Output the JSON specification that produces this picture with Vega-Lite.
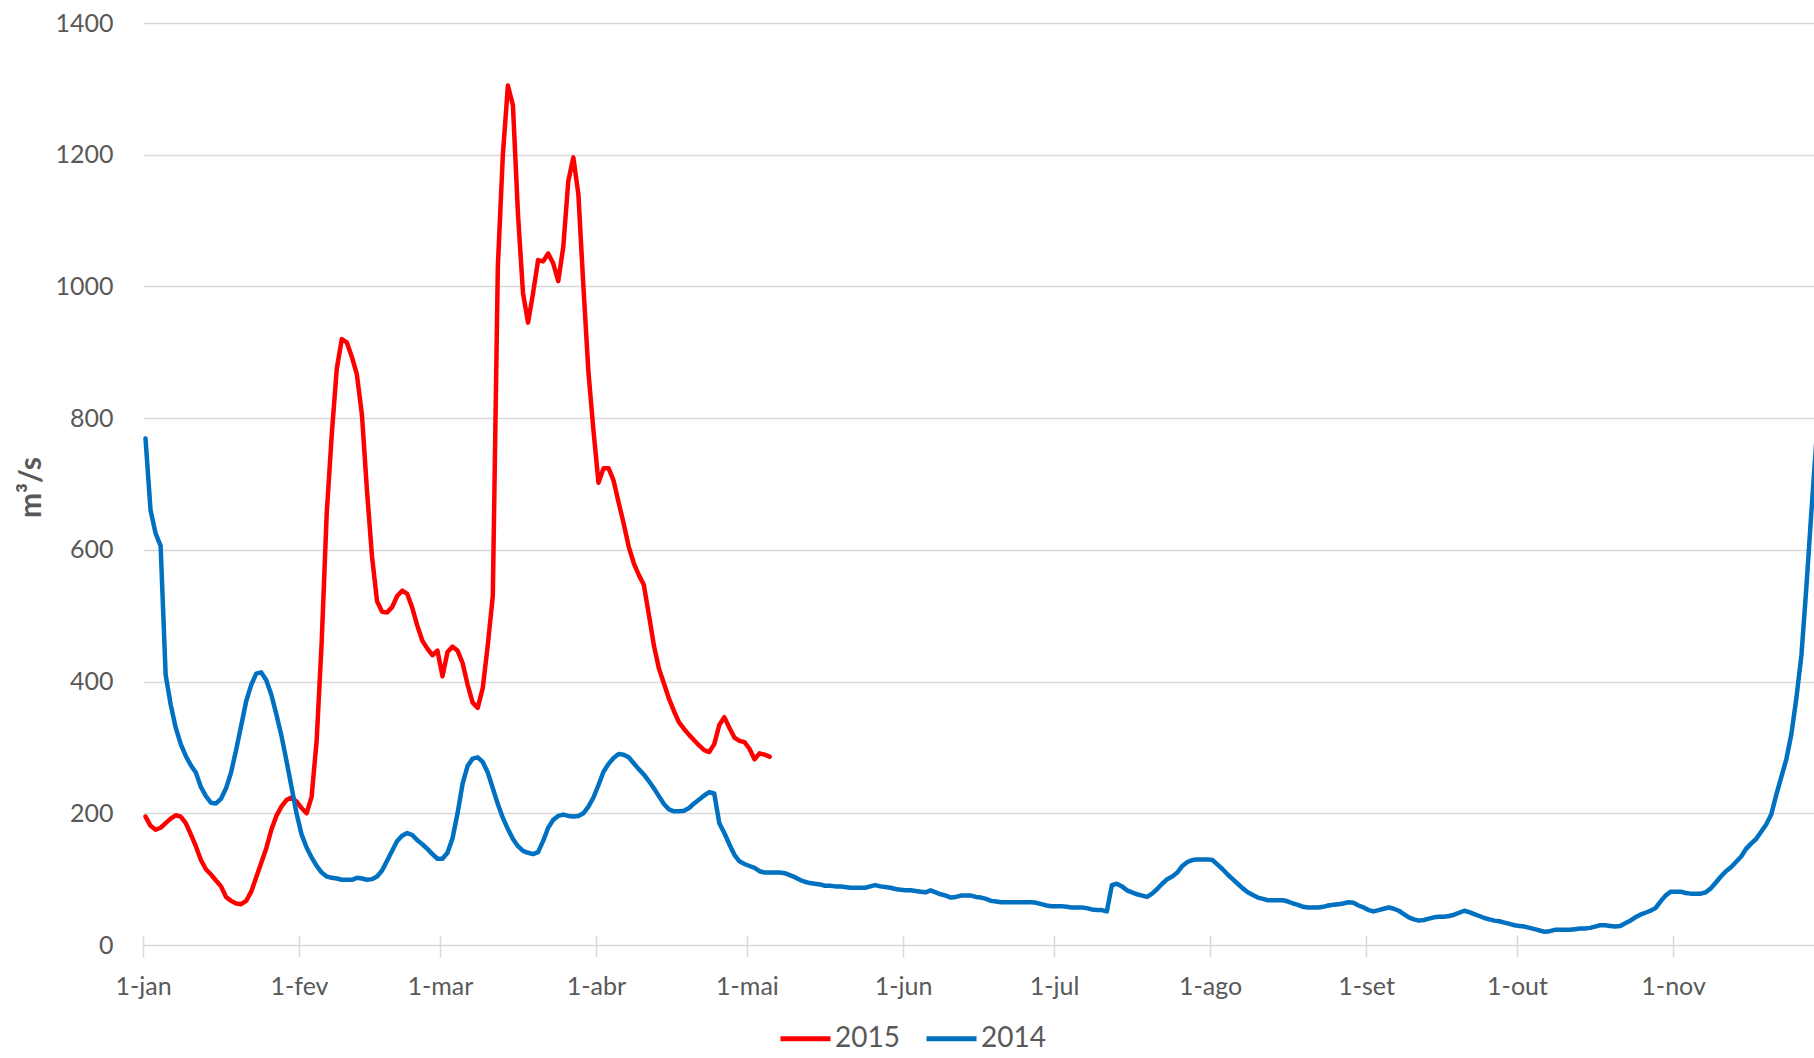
{
"$schema": "https://vega.github.io/schema/vega-lite/v6.json",
"width": 1671, "height": 922,
"autosize": {"type": "none"},
"padding": {"left": 143, "top": 23, "right": 0, "bottom": 113},
"background": "white",
"config": {"view": {"stroke": null}, "font": "Lato"},
"data": {"values": [
{"ano":"2015","data":"2014-01-01","vazao":195},{"ano":"2015","data":"2014-01-02","vazao":181},{"ano":"2015","data":"2014-01-03","vazao":175},{"ano":"2015","data":"2014-01-04","vazao":178},{"ano":"2015","data":"2014-01-05","vazao":185},{"ano":"2015","data":"2014-01-06","vazao":192},{"ano":"2015","data":"2014-01-07","vazao":197},{"ano":"2015","data":"2014-01-08","vazao":195},{"ano":"2015","data":"2014-01-09","vazao":185},{"ano":"2015","data":"2014-01-10","vazao":168},{"ano":"2015","data":"2014-01-11","vazao":150},{"ano":"2015","data":"2014-01-12","vazao":129},{"ano":"2015","data":"2014-01-13","vazao":115},{"ano":"2015","data":"2014-01-14","vazao":107},{"ano":"2015","data":"2014-01-15","vazao":98},{"ano":"2015","data":"2014-01-16","vazao":89},{"ano":"2015","data":"2014-01-17","vazao":73},{"ano":"2015","data":"2014-01-18","vazao":67},{"ano":"2015","data":"2014-01-19","vazao":63},{"ano":"2015","data":"2014-01-20","vazao":62},{"ano":"2015","data":"2014-01-21","vazao":67},{"ano":"2015","data":"2014-01-22","vazao":81},{"ano":"2015","data":"2014-01-23","vazao":103},{"ano":"2015","data":"2014-01-24","vazao":125},{"ano":"2015","data":"2014-01-25","vazao":147},{"ano":"2015","data":"2014-01-26","vazao":175},{"ano":"2015","data":"2014-01-27","vazao":196},{"ano":"2015","data":"2014-01-28","vazao":210},{"ano":"2015","data":"2014-01-29","vazao":220},{"ano":"2015","data":"2014-01-30","vazao":224},{"ano":"2015","data":"2014-01-31","vazao":218},
{"ano":"2015","data":"2014-02-01","vazao":208},{"ano":"2015","data":"2014-02-02","vazao":200},{"ano":"2015","data":"2014-02-03","vazao":225},{"ano":"2015","data":"2014-02-04","vazao":310},{"ano":"2015","data":"2014-02-05","vazao":460},{"ano":"2015","data":"2014-02-06","vazao":655},{"ano":"2015","data":"2014-02-07","vazao":775},{"ano":"2015","data":"2014-02-08","vazao":875},{"ano":"2015","data":"2014-02-09","vazao":920},{"ano":"2015","data":"2014-02-10","vazao":915},{"ano":"2015","data":"2014-02-11","vazao":893},{"ano":"2015","data":"2014-02-12","vazao":866},{"ano":"2015","data":"2014-02-13","vazao":805},{"ano":"2015","data":"2014-02-14","vazao":690},{"ano":"2015","data":"2014-02-15","vazao":590},{"ano":"2015","data":"2014-02-16","vazao":522},{"ano":"2015","data":"2014-02-17","vazao":506},{"ano":"2015","data":"2014-02-18","vazao":505},{"ano":"2015","data":"2014-02-19","vazao":513},{"ano":"2015","data":"2014-02-20","vazao":530},{"ano":"2015","data":"2014-02-21","vazao":538},{"ano":"2015","data":"2014-02-22","vazao":533},{"ano":"2015","data":"2014-02-23","vazao":512},{"ano":"2015","data":"2014-02-24","vazao":485},{"ano":"2015","data":"2014-02-25","vazao":462},{"ano":"2015","data":"2014-02-26","vazao":450},{"ano":"2015","data":"2014-02-27","vazao":440},{"ano":"2015","data":"2014-02-28","vazao":447},
{"ano":"2015","data":"2014-03-01","vazao":408},{"ano":"2015","data":"2014-03-02","vazao":445},{"ano":"2015","data":"2014-03-03","vazao":453},{"ano":"2015","data":"2014-03-04","vazao":447},{"ano":"2015","data":"2014-03-05","vazao":428},{"ano":"2015","data":"2014-03-06","vazao":395},{"ano":"2015","data":"2014-03-07","vazao":368},{"ano":"2015","data":"2014-03-08","vazao":360},{"ano":"2015","data":"2014-03-09","vazao":390},{"ano":"2015","data":"2014-03-10","vazao":455},{"ano":"2015","data":"2014-03-11","vazao":530},{"ano":"2015","data":"2014-03-12","vazao":1030},{"ano":"2015","data":"2014-03-13","vazao":1200},{"ano":"2015","data":"2014-03-14","vazao":1305},{"ano":"2015","data":"2014-03-15","vazao":1275},{"ano":"2015","data":"2014-03-16","vazao":1110},{"ano":"2015","data":"2014-03-17","vazao":990},{"ano":"2015","data":"2014-03-18","vazao":945},{"ano":"2015","data":"2014-03-19","vazao":990},{"ano":"2015","data":"2014-03-20","vazao":1040},{"ano":"2015","data":"2014-03-21","vazao":1038},{"ano":"2015","data":"2014-03-22","vazao":1050},{"ano":"2015","data":"2014-03-23","vazao":1035},{"ano":"2015","data":"2014-03-24","vazao":1008},{"ano":"2015","data":"2014-03-25","vazao":1060},{"ano":"2015","data":"2014-03-26","vazao":1160},{"ano":"2015","data":"2014-03-27","vazao":1196},{"ano":"2015","data":"2014-03-28","vazao":1140},{"ano":"2015","data":"2014-03-29","vazao":1000},{"ano":"2015","data":"2014-03-30","vazao":870},{"ano":"2015","data":"2014-03-31","vazao":781},
{"ano":"2015","data":"2014-04-01","vazao":702},{"ano":"2015","data":"2014-04-02","vazao":724},{"ano":"2015","data":"2014-04-03","vazao":724},{"ano":"2015","data":"2014-04-04","vazao":705},{"ano":"2015","data":"2014-04-05","vazao":672},{"ano":"2015","data":"2014-04-06","vazao":640},{"ano":"2015","data":"2014-04-07","vazao":605},{"ano":"2015","data":"2014-04-08","vazao":580},{"ano":"2015","data":"2014-04-09","vazao":562},{"ano":"2015","data":"2014-04-10","vazao":547},{"ano":"2015","data":"2014-04-11","vazao":502},{"ano":"2015","data":"2014-04-12","vazao":455},{"ano":"2015","data":"2014-04-13","vazao":420},{"ano":"2015","data":"2014-04-14","vazao":397},{"ano":"2015","data":"2014-04-15","vazao":374},{"ano":"2015","data":"2014-04-16","vazao":355},{"ano":"2015","data":"2014-04-17","vazao":338},{"ano":"2015","data":"2014-04-18","vazao":328},{"ano":"2015","data":"2014-04-19","vazao":319},{"ano":"2015","data":"2014-04-20","vazao":311},{"ano":"2015","data":"2014-04-21","vazao":303},{"ano":"2015","data":"2014-04-22","vazao":296},{"ano":"2015","data":"2014-04-23","vazao":293},{"ano":"2015","data":"2014-04-24","vazao":305},{"ano":"2015","data":"2014-04-25","vazao":334},{"ano":"2015","data":"2014-04-26","vazao":346},{"ano":"2015","data":"2014-04-27","vazao":330},{"ano":"2015","data":"2014-04-28","vazao":315},{"ano":"2015","data":"2014-04-29","vazao":310},{"ano":"2015","data":"2014-04-30","vazao":308},
{"ano":"2015","data":"2014-05-01","vazao":298},{"ano":"2015","data":"2014-05-02","vazao":282},{"ano":"2015","data":"2014-05-03","vazao":291},{"ano":"2015","data":"2014-05-04","vazao":289},{"ano":"2015","data":"2014-05-05","vazao":286},
{"ano":"2014","data":"2014-01-01","vazao":769},{"ano":"2014","data":"2014-01-02","vazao":660},{"ano":"2014","data":"2014-01-03","vazao":625},{"ano":"2014","data":"2014-01-04","vazao":606},{"ano":"2014","data":"2014-01-05","vazao":410},{"ano":"2014","data":"2014-01-06","vazao":365},{"ano":"2014","data":"2014-01-07","vazao":330},{"ano":"2014","data":"2014-01-08","vazao":305},{"ano":"2014","data":"2014-01-09","vazao":287},{"ano":"2014","data":"2014-01-10","vazao":273},{"ano":"2014","data":"2014-01-11","vazao":262},{"ano":"2014","data":"2014-01-12","vazao":240},{"ano":"2014","data":"2014-01-13","vazao":226},{"ano":"2014","data":"2014-01-14","vazao":216},{"ano":"2014","data":"2014-01-15","vazao":215},{"ano":"2014","data":"2014-01-16","vazao":222},{"ano":"2014","data":"2014-01-17","vazao":238},{"ano":"2014","data":"2014-01-18","vazao":262},{"ano":"2014","data":"2014-01-19","vazao":296},{"ano":"2014","data":"2014-01-20","vazao":333},{"ano":"2014","data":"2014-01-21","vazao":370},{"ano":"2014","data":"2014-01-22","vazao":395},{"ano":"2014","data":"2014-01-23","vazao":412},{"ano":"2014","data":"2014-01-24","vazao":414},{"ano":"2014","data":"2014-01-25","vazao":402},{"ano":"2014","data":"2014-01-26","vazao":380},{"ano":"2014","data":"2014-01-27","vazao":350},{"ano":"2014","data":"2014-01-28","vazao":318},{"ano":"2014","data":"2014-01-29","vazao":280},{"ano":"2014","data":"2014-01-30","vazao":240},{"ano":"2014","data":"2014-01-31","vazao":200},
{"ano":"2014","data":"2014-02-01","vazao":168},{"ano":"2014","data":"2014-02-02","vazao":148},{"ano":"2014","data":"2014-02-03","vazao":133},{"ano":"2014","data":"2014-02-04","vazao":120},{"ano":"2014","data":"2014-02-05","vazao":110},{"ano":"2014","data":"2014-02-06","vazao":104},{"ano":"2014","data":"2014-02-07","vazao":102},{"ano":"2014","data":"2014-02-08","vazao":101},{"ano":"2014","data":"2014-02-09","vazao":99},{"ano":"2014","data":"2014-02-10","vazao":99},{"ano":"2014","data":"2014-02-11","vazao":99},{"ano":"2014","data":"2014-02-12","vazao":102},{"ano":"2014","data":"2014-02-13","vazao":101},{"ano":"2014","data":"2014-02-14","vazao":99},{"ano":"2014","data":"2014-02-15","vazao":100},{"ano":"2014","data":"2014-02-16","vazao":104},{"ano":"2014","data":"2014-02-17","vazao":113},{"ano":"2014","data":"2014-02-18","vazao":128},{"ano":"2014","data":"2014-02-19","vazao":143},{"ano":"2014","data":"2014-02-20","vazao":158},{"ano":"2014","data":"2014-02-21","vazao":166},{"ano":"2014","data":"2014-02-22","vazao":170},{"ano":"2014","data":"2014-02-23","vazao":167},{"ano":"2014","data":"2014-02-24","vazao":159},{"ano":"2014","data":"2014-02-25","vazao":153},{"ano":"2014","data":"2014-02-26","vazao":146},{"ano":"2014","data":"2014-02-27","vazao":138},{"ano":"2014","data":"2014-02-28","vazao":131},
{"ano":"2014","data":"2014-03-01","vazao":131},{"ano":"2014","data":"2014-03-02","vazao":140},{"ano":"2014","data":"2014-03-03","vazao":162},{"ano":"2014","data":"2014-03-04","vazao":200},{"ano":"2014","data":"2014-03-05","vazao":245},{"ano":"2014","data":"2014-03-06","vazao":272},{"ano":"2014","data":"2014-03-07","vazao":283},{"ano":"2014","data":"2014-03-08","vazao":285},{"ano":"2014","data":"2014-03-09","vazao":278},{"ano":"2014","data":"2014-03-10","vazao":262},{"ano":"2014","data":"2014-03-11","vazao":238},{"ano":"2014","data":"2014-03-12","vazao":214},{"ano":"2014","data":"2014-03-13","vazao":193},{"ano":"2014","data":"2014-03-14","vazao":176},{"ano":"2014","data":"2014-03-15","vazao":161},{"ano":"2014","data":"2014-03-16","vazao":150},{"ano":"2014","data":"2014-03-17","vazao":143},{"ano":"2014","data":"2014-03-18","vazao":140},{"ano":"2014","data":"2014-03-19","vazao":138},{"ano":"2014","data":"2014-03-20","vazao":141},{"ano":"2014","data":"2014-03-21","vazao":158},{"ano":"2014","data":"2014-03-22","vazao":178},{"ano":"2014","data":"2014-03-23","vazao":190},{"ano":"2014","data":"2014-03-24","vazao":196},{"ano":"2014","data":"2014-03-25","vazao":198},{"ano":"2014","data":"2014-03-26","vazao":196},{"ano":"2014","data":"2014-03-27","vazao":195},{"ano":"2014","data":"2014-03-28","vazao":196},{"ano":"2014","data":"2014-03-29","vazao":200},{"ano":"2014","data":"2014-03-30","vazao":210},{"ano":"2014","data":"2014-03-31","vazao":224},
{"ano":"2014","data":"2014-04-01","vazao":243},{"ano":"2014","data":"2014-04-02","vazao":263},{"ano":"2014","data":"2014-04-03","vazao":275},{"ano":"2014","data":"2014-04-04","vazao":284},{"ano":"2014","data":"2014-04-05","vazao":290},{"ano":"2014","data":"2014-04-06","vazao":289},{"ano":"2014","data":"2014-04-07","vazao":285},{"ano":"2014","data":"2014-04-08","vazao":276},{"ano":"2014","data":"2014-04-09","vazao":267},{"ano":"2014","data":"2014-04-10","vazao":259},{"ano":"2014","data":"2014-04-11","vazao":249},{"ano":"2014","data":"2014-04-12","vazao":238},{"ano":"2014","data":"2014-04-13","vazao":226},{"ano":"2014","data":"2014-04-14","vazao":214},{"ano":"2014","data":"2014-04-15","vazao":206},{"ano":"2014","data":"2014-04-16","vazao":203},{"ano":"2014","data":"2014-04-17","vazao":203},{"ano":"2014","data":"2014-04-18","vazao":204},{"ano":"2014","data":"2014-04-19","vazao":208},{"ano":"2014","data":"2014-04-20","vazao":215},{"ano":"2014","data":"2014-04-21","vazao":221},{"ano":"2014","data":"2014-04-22","vazao":227},{"ano":"2014","data":"2014-04-23","vazao":232},{"ano":"2014","data":"2014-04-24","vazao":230},{"ano":"2014","data":"2014-04-25","vazao":185},{"ano":"2014","data":"2014-04-26","vazao":170},{"ano":"2014","data":"2014-04-27","vazao":153},{"ano":"2014","data":"2014-04-28","vazao":137},{"ano":"2014","data":"2014-04-29","vazao":127},{"ano":"2014","data":"2014-04-30","vazao":123},
{"ano":"2014","data":"2014-05-01","vazao":120},{"ano":"2014","data":"2014-05-02","vazao":117},{"ano":"2014","data":"2014-05-03","vazao":112},{"ano":"2014","data":"2014-05-04","vazao":110},{"ano":"2014","data":"2014-05-05","vazao":110},{"ano":"2014","data":"2014-05-06","vazao":110},{"ano":"2014","data":"2014-05-07","vazao":110},{"ano":"2014","data":"2014-05-08","vazao":109},{"ano":"2014","data":"2014-05-09","vazao":106},{"ano":"2014","data":"2014-05-10","vazao":103},{"ano":"2014","data":"2014-05-11","vazao":99},{"ano":"2014","data":"2014-05-12","vazao":96},{"ano":"2014","data":"2014-05-13","vazao":94},{"ano":"2014","data":"2014-05-14","vazao":93},{"ano":"2014","data":"2014-05-15","vazao":92},{"ano":"2014","data":"2014-05-16","vazao":90},{"ano":"2014","data":"2014-05-17","vazao":90},{"ano":"2014","data":"2014-05-18","vazao":89},{"ano":"2014","data":"2014-05-19","vazao":89},{"ano":"2014","data":"2014-05-20","vazao":88},{"ano":"2014","data":"2014-05-21","vazao":87},{"ano":"2014","data":"2014-05-22","vazao":87},{"ano":"2014","data":"2014-05-23","vazao":87},{"ano":"2014","data":"2014-05-24","vazao":87},{"ano":"2014","data":"2014-05-25","vazao":89},{"ano":"2014","data":"2014-05-26","vazao":91},{"ano":"2014","data":"2014-05-27","vazao":89},{"ano":"2014","data":"2014-05-28","vazao":88},{"ano":"2014","data":"2014-05-29","vazao":87},{"ano":"2014","data":"2014-05-30","vazao":85},{"ano":"2014","data":"2014-05-31","vazao":84},
{"ano":"2014","data":"2014-06-01","vazao":83},{"ano":"2014","data":"2014-06-02","vazao":83},{"ano":"2014","data":"2014-06-03","vazao":82},{"ano":"2014","data":"2014-06-04","vazao":81},{"ano":"2014","data":"2014-06-05","vazao":80},{"ano":"2014","data":"2014-06-06","vazao":83},{"ano":"2014","data":"2014-06-07","vazao":80},{"ano":"2014","data":"2014-06-08","vazao":77},{"ano":"2014","data":"2014-06-09","vazao":75},{"ano":"2014","data":"2014-06-10","vazao":72},{"ano":"2014","data":"2014-06-11","vazao":73},{"ano":"2014","data":"2014-06-12","vazao":75},{"ano":"2014","data":"2014-06-13","vazao":75},{"ano":"2014","data":"2014-06-14","vazao":75},{"ano":"2014","data":"2014-06-15","vazao":73},{"ano":"2014","data":"2014-06-16","vazao":72},{"ano":"2014","data":"2014-06-17","vazao":70},{"ano":"2014","data":"2014-06-18","vazao":67},{"ano":"2014","data":"2014-06-19","vazao":66},{"ano":"2014","data":"2014-06-20","vazao":65},{"ano":"2014","data":"2014-06-21","vazao":65},{"ano":"2014","data":"2014-06-22","vazao":65},{"ano":"2014","data":"2014-06-23","vazao":65},{"ano":"2014","data":"2014-06-24","vazao":65},{"ano":"2014","data":"2014-06-25","vazao":65},{"ano":"2014","data":"2014-06-26","vazao":65},{"ano":"2014","data":"2014-06-27","vazao":64},{"ano":"2014","data":"2014-06-28","vazao":62},{"ano":"2014","data":"2014-06-29","vazao":60},{"ano":"2014","data":"2014-06-30","vazao":59},
{"ano":"2014","data":"2014-07-01","vazao":59},{"ano":"2014","data":"2014-07-02","vazao":59},{"ano":"2014","data":"2014-07-03","vazao":58},{"ano":"2014","data":"2014-07-04","vazao":57},{"ano":"2014","data":"2014-07-05","vazao":57},{"ano":"2014","data":"2014-07-06","vazao":57},{"ano":"2014","data":"2014-07-07","vazao":56},{"ano":"2014","data":"2014-07-08","vazao":54},{"ano":"2014","data":"2014-07-09","vazao":53},{"ano":"2014","data":"2014-07-10","vazao":53},{"ano":"2014","data":"2014-07-11","vazao":51},{"ano":"2014","data":"2014-07-12","vazao":91},{"ano":"2014","data":"2014-07-13","vazao":93},{"ano":"2014","data":"2014-07-14","vazao":89},{"ano":"2014","data":"2014-07-15","vazao":83},{"ano":"2014","data":"2014-07-16","vazao":80},{"ano":"2014","data":"2014-07-17","vazao":77},{"ano":"2014","data":"2014-07-18","vazao":75},{"ano":"2014","data":"2014-07-19","vazao":73},{"ano":"2014","data":"2014-07-20","vazao":78},{"ano":"2014","data":"2014-07-21","vazao":85},{"ano":"2014","data":"2014-07-22","vazao":93},{"ano":"2014","data":"2014-07-23","vazao":100},{"ano":"2014","data":"2014-07-24","vazao":104},{"ano":"2014","data":"2014-07-25","vazao":110},{"ano":"2014","data":"2014-07-26","vazao":120},{"ano":"2014","data":"2014-07-27","vazao":126},{"ano":"2014","data":"2014-07-28","vazao":129},{"ano":"2014","data":"2014-07-29","vazao":130},{"ano":"2014","data":"2014-07-30","vazao":130},{"ano":"2014","data":"2014-07-31","vazao":130},
{"ano":"2014","data":"2014-08-01","vazao":129},{"ano":"2014","data":"2014-08-02","vazao":122},{"ano":"2014","data":"2014-08-03","vazao":115},{"ano":"2014","data":"2014-08-04","vazao":107},{"ano":"2014","data":"2014-08-05","vazao":100},{"ano":"2014","data":"2014-08-06","vazao":93},{"ano":"2014","data":"2014-08-07","vazao":86},{"ano":"2014","data":"2014-08-08","vazao":80},{"ano":"2014","data":"2014-08-09","vazao":76},{"ano":"2014","data":"2014-08-10","vazao":72},{"ano":"2014","data":"2014-08-11","vazao":70},{"ano":"2014","data":"2014-08-12","vazao":68},{"ano":"2014","data":"2014-08-13","vazao":68},{"ano":"2014","data":"2014-08-14","vazao":68},{"ano":"2014","data":"2014-08-15","vazao":68},{"ano":"2014","data":"2014-08-16","vazao":66},{"ano":"2014","data":"2014-08-17","vazao":63},{"ano":"2014","data":"2014-08-18","vazao":61},{"ano":"2014","data":"2014-08-19","vazao":58},{"ano":"2014","data":"2014-08-20","vazao":57},{"ano":"2014","data":"2014-08-21","vazao":57},{"ano":"2014","data":"2014-08-22","vazao":57},{"ano":"2014","data":"2014-08-23","vazao":58},{"ano":"2014","data":"2014-08-24","vazao":60},{"ano":"2014","data":"2014-08-25","vazao":61},{"ano":"2014","data":"2014-08-26","vazao":62},{"ano":"2014","data":"2014-08-27","vazao":63},{"ano":"2014","data":"2014-08-28","vazao":65},{"ano":"2014","data":"2014-08-29","vazao":64},{"ano":"2014","data":"2014-08-30","vazao":60},{"ano":"2014","data":"2014-08-31","vazao":57},
{"ano":"2014","data":"2014-09-01","vazao":53},{"ano":"2014","data":"2014-09-02","vazao":51},{"ano":"2014","data":"2014-09-03","vazao":53},{"ano":"2014","data":"2014-09-04","vazao":55},{"ano":"2014","data":"2014-09-05","vazao":57},{"ano":"2014","data":"2014-09-06","vazao":55},{"ano":"2014","data":"2014-09-07","vazao":52},{"ano":"2014","data":"2014-09-08","vazao":47},{"ano":"2014","data":"2014-09-09","vazao":42},{"ano":"2014","data":"2014-09-10","vazao":39},{"ano":"2014","data":"2014-09-11","vazao":37},{"ano":"2014","data":"2014-09-12","vazao":38},{"ano":"2014","data":"2014-09-13","vazao":40},{"ano":"2014","data":"2014-09-14","vazao":42},{"ano":"2014","data":"2014-09-15","vazao":43},{"ano":"2014","data":"2014-09-16","vazao":43},{"ano":"2014","data":"2014-09-17","vazao":44},{"ano":"2014","data":"2014-09-18","vazao":46},{"ano":"2014","data":"2014-09-19","vazao":49},{"ano":"2014","data":"2014-09-20","vazao":52},{"ano":"2014","data":"2014-09-21","vazao":50},{"ano":"2014","data":"2014-09-22","vazao":47},{"ano":"2014","data":"2014-09-23","vazao":44},{"ano":"2014","data":"2014-09-24","vazao":41},{"ano":"2014","data":"2014-09-25","vazao":39},{"ano":"2014","data":"2014-09-26","vazao":37},{"ano":"2014","data":"2014-09-27","vazao":36},{"ano":"2014","data":"2014-09-28","vazao":34},{"ano":"2014","data":"2014-09-29","vazao":32},{"ano":"2014","data":"2014-09-30","vazao":30},
{"ano":"2014","data":"2014-10-01","vazao":29},{"ano":"2014","data":"2014-10-02","vazao":28},{"ano":"2014","data":"2014-10-03","vazao":26},{"ano":"2014","data":"2014-10-04","vazao":24},{"ano":"2014","data":"2014-10-05","vazao":22},{"ano":"2014","data":"2014-10-06","vazao":20},{"ano":"2014","data":"2014-10-07","vazao":21},{"ano":"2014","data":"2014-10-08","vazao":23},{"ano":"2014","data":"2014-10-09","vazao":23},{"ano":"2014","data":"2014-10-10","vazao":23},{"ano":"2014","data":"2014-10-11","vazao":23},{"ano":"2014","data":"2014-10-12","vazao":24},{"ano":"2014","data":"2014-10-13","vazao":25},{"ano":"2014","data":"2014-10-14","vazao":25},{"ano":"2014","data":"2014-10-15","vazao":26},{"ano":"2014","data":"2014-10-16","vazao":28},{"ano":"2014","data":"2014-10-17","vazao":30},{"ano":"2014","data":"2014-10-18","vazao":30},{"ano":"2014","data":"2014-10-19","vazao":29},{"ano":"2014","data":"2014-10-20","vazao":28},{"ano":"2014","data":"2014-10-21","vazao":29},{"ano":"2014","data":"2014-10-22","vazao":33},{"ano":"2014","data":"2014-10-23","vazao":37},{"ano":"2014","data":"2014-10-24","vazao":42},{"ano":"2014","data":"2014-10-25","vazao":46},{"ano":"2014","data":"2014-10-26","vazao":49},{"ano":"2014","data":"2014-10-27","vazao":52},{"ano":"2014","data":"2014-10-28","vazao":56},{"ano":"2014","data":"2014-10-29","vazao":66},{"ano":"2014","data":"2014-10-30","vazao":75},{"ano":"2014","data":"2014-10-31","vazao":81},
{"ano":"2014","data":"2014-11-01","vazao":81},{"ano":"2014","data":"2014-11-02","vazao":81},{"ano":"2014","data":"2014-11-03","vazao":79},{"ano":"2014","data":"2014-11-04","vazao":78},{"ano":"2014","data":"2014-11-05","vazao":78},{"ano":"2014","data":"2014-11-06","vazao":78},{"ano":"2014","data":"2014-11-07","vazao":80},{"ano":"2014","data":"2014-11-08","vazao":86},{"ano":"2014","data":"2014-11-09","vazao":95},{"ano":"2014","data":"2014-11-10","vazao":104},{"ano":"2014","data":"2014-11-11","vazao":112},{"ano":"2014","data":"2014-11-12","vazao":118},{"ano":"2014","data":"2014-11-13","vazao":126},{"ano":"2014","data":"2014-11-14","vazao":134},{"ano":"2014","data":"2014-11-15","vazao":146},{"ano":"2014","data":"2014-11-16","vazao":154},{"ano":"2014","data":"2014-11-17","vazao":161},{"ano":"2014","data":"2014-11-18","vazao":172},{"ano":"2014","data":"2014-11-19","vazao":183},{"ano":"2014","data":"2014-11-20","vazao":198},{"ano":"2014","data":"2014-11-21","vazao":228},{"ano":"2014","data":"2014-11-22","vazao":255},{"ano":"2014","data":"2014-11-23","vazao":282},{"ano":"2014","data":"2014-11-24","vazao":320},{"ano":"2014","data":"2014-11-25","vazao":375},{"ano":"2014","data":"2014-11-26","vazao":440},{"ano":"2014","data":"2014-11-27","vazao":545},{"ano":"2014","data":"2014-11-28","vazao":660},{"ano":"2014","data":"2014-11-29","vazao":770}
]},
"mark": {"type": "line", "strokeWidth": 4.5, "clip": true, "strokeJoin": "round", "strokeCap": "round"},
"encoding": {
"x": {"field": "data", "type": "temporal", "timeUnit": "utcyearmonthdate", "bandPosition": 0.5,
 "scale": {"domain": [{"year": 2014, "month": 1, "date": 1, "utc": true}, {"year": 2014, "month": 11, "date": 29, "utc": true}]},
 "axis": {"title": null,
  "values": [{"year":2014,"month":1,"date":1,"utc":true},{"year":2014,"month":2,"date":1,"utc":true},{"year":2014,"month":3,"date":1,"utc":true},{"year":2014,"month":4,"date":1,"utc":true},{"year":2014,"month":5,"date":1,"utc":true},{"year":2014,"month":6,"date":1,"utc":true},{"year":2014,"month":7,"date":1,"utc":true},{"year":2014,"month":8,"date":1,"utc":true},{"year":2014,"month":9,"date":1,"utc":true},{"year":2014,"month":10,"date":1,"utc":true},{"year":2014,"month":11,"date":1,"utc":true}],
  "labelExpr": "'1-' + ['jan','fev','mar','abr','mai','jun','jul','ago','set','out','nov','dez'][utcmonth(datum.value)]",
  "grid": false, "domain": false, "ticks": true, "tickColor": "#D9D9D9", "tickWidth": 1.5, "tickSize": 22, "offset": -10,
  "labelPadding": 17, "labelFont": "Lato", "labelFontSize": 25, "labelColor": "#595959", "labelFlush": false, "labelOverlap": false}},
"y": {"field": "vazao", "type": "quantitative",
 "scale": {"domain": [0, 1400]},
 "axis": {"title": "m³/s", "values": [0, 200, 400, 600, 800, 1000, 1200, 1400], "format": "d",
  "grid": true, "gridColor": "#D9D9D9", "gridWidth": 1.5, "domain": false, "ticks": false,
  "labelPadding": 30, "labelFont": "Lato", "labelFontSize": 25, "labelColor": "#595959",
  "titleFont": "Lato", "titleFontSize": 30, "titleFontWeight": "bold", "titleColor": "#595959",
  "titleX": -112, "titleY": 464, "titleBaseline": "middle", "titleAlign": "center", "titleAngle": -90}},
"color": {"field": "ano", "type": "nominal",
 "scale": {"domain": ["2015", "2014"], "range": ["#FF0000", "#0070C0"]},
 "legend": {"title": null, "orient": "none", "legendX": 635, "legendY": 988, "direction": "horizontal",
  "symbolType": "stroke", "symbolSize": 2500, "symbolStrokeWidth": 5, "labelFont": "Lato", "labelFontSize": 28,
  "labelColor": "#595959", "labelOffset": 2, "columnPadding": 16, "padding": 0}}
}
}
